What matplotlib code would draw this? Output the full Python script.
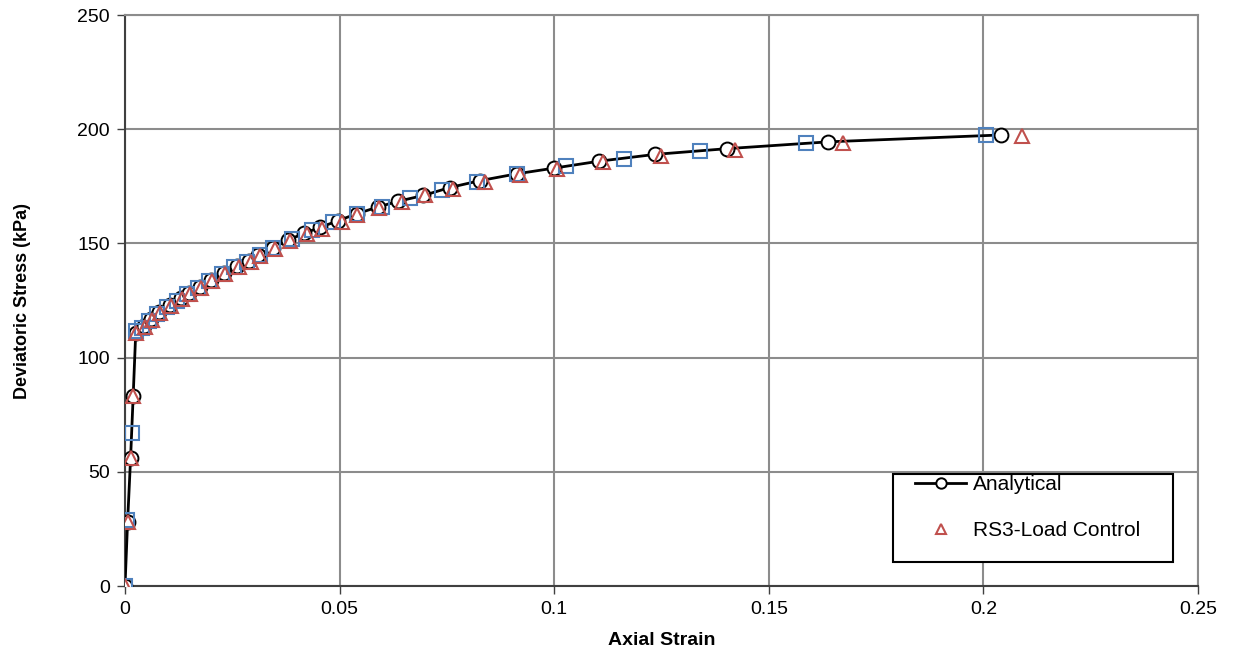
import matplotlib
matplotlib.use('Agg')
import matplotlib.pyplot as plt
from matplotlib.patches import Rectangle

plt.rcParams['font.family'] = ['Liberation Sans', 'DejaVu Sans']

# Analytical (black line + circles)
an_strain = [0, 0.0006, 0.0013, 0.0019, 0.0025, 0.0045, 0.006, 0.008, 0.0105, 0.013,
             0.015, 0.0175, 0.020, 0.023, 0.026, 0.029, 0.031, 0.0345, 0.038, 0.0418,
             0.0454, 0.0497, 0.054, 0.059, 0.0637, 0.0695, 0.0757, 0.0827, 0.0913, 0.1,
             0.1104, 0.1235, 0.1402, 0.1639, 0.204]
an_stress = [0, 28, 56, 83, 111, 114, 117, 120, 123, 126,
             128.5, 131, 134, 137, 140, 142.5, 145, 148, 151.5, 154.5,
             157, 160, 163, 166, 168.5, 171, 174.5, 177.5, 180.5, 183,
             186, 189, 191.5, 194.5, 197.5]

# blue squares (no legend entry)
sq_strain = [0, 0.0005, 0.0016, 0.0025, 0.004, 0.0055, 0.0075, 0.0098, 0.0122, 0.0145,
             0.017, 0.0195, 0.0225, 0.0255, 0.0285, 0.0315, 0.0345, 0.0388, 0.0435, 0.0484,
             0.054, 0.0598, 0.0664, 0.0738, 0.0819, 0.0914, 0.1028, 0.1163, 0.134, 0.1586,
             0.2005]
sq_stress = [0, 29, 67, 111.5, 113, 116, 119, 122, 125, 128,
             130.5, 133.5, 136.5, 139.5, 142, 145, 148, 152, 156, 159.5,
             163, 166, 170, 173.5, 177, 180.5, 184, 187, 190.5, 194,
             197.5]

# RS3 load control (red triangles)
tr_strain = [0, 0.0006, 0.0013, 0.0019, 0.0025, 0.0047, 0.0062, 0.0082, 0.0107, 0.0132,
             0.0152, 0.0178, 0.0203, 0.0233, 0.0265, 0.0293, 0.0315, 0.035, 0.0384, 0.0423,
             0.0458, 0.0505, 0.054, 0.0592, 0.0645, 0.0699, 0.0765, 0.0839, 0.092, 0.1007,
             0.1114, 0.1249, 0.1421, 0.1674, 0.209]
tr_stress = [0, 28, 56, 83, 111, 113.5, 116.5, 119.5, 122.5, 125.5,
             128, 130.5, 133.5, 136.5, 139.5, 142, 144.5, 147.5, 151, 154,
             156.5, 159.5, 162.5, 165.5, 168, 171, 174, 177, 180, 182.5,
             185.5, 188.5, 190.8, 194, 197]

x_ticks = [0, 0.05, 0.1, 0.15, 0.2, 0.25]
x_tick_labels = ['0', '0.05', '0.1', '0.15', '0.2', '0.25']
y_ticks = [0, 50, 100, 150, 200, 250]

fig = plt.figure(figsize=(12.34, 6.56), dpi=100)
ax = fig.add_axes([0.1013, 0.1067, 0.8695, 0.8703])

ax.plot(an_strain, an_stress, color='black', lw=2.0, marker='o', ms=10,
        mfc='white', mec='black', mew=1.4, zorder=3, label='Analytical')
ax.plot(sq_strain, sq_stress, ls='none', marker='s', ms=10, mfc='none',
        mec='#4F81BD', mew=1.5, zorder=4)
ax.plot(tr_strain, tr_stress, ls='none', marker='^', ms=10, mfc='none',
        mec='#C0504D', mew=1.5, zorder=5, label='RS3-Load Control')

ax.set_xlim(0, 0.25)
ax.set_ylim(0, 250)
ax.set_xticks(x_ticks)
ax.set_xticklabels(x_tick_labels)
ax.set_yticks(y_ticks)
ax.tick_params(axis='both', direction='out', length=6, width=1, color='#404040',
               labelsize=14, pad=5)
ax.grid(True, color='#8c8c8c', lw=1.5)
ax.set_axisbelow(True)
for s in ['top', 'right']:
    ax.spines[s].set_color('#8c8c8c')
    ax.spines[s].set_linewidth(1.5)
for s in ['left', 'bottom']:
    ax.spines[s].set_color('#404040')
    ax.spines[s].set_linewidth(1.5)

ax.set_xlabel('Axial Strain', fontsize=14, fontweight='bold', labelpad=10)
ax.set_ylabel('Deviatoric Stress (kPa)', fontsize=13, fontweight='bold', labelpad=33)

# legend box drawn separately (Excel-style, taller than its entries)
ax.add_patch(Rectangle((0.7157, 0.042), 0.261, 0.154, transform=ax.transAxes,
                       facecolor='white', edgecolor='black', lw=1.5, zorder=6,
                       clip_on=False))
leg = ax.legend(loc='upper left', bbox_to_anchor=(0.7363, 0.194), fontsize=15,
                frameon=False, handlelength=2.45, handletextpad=0.34,
                labelspacing=1.3, borderpad=0, borderaxespad=0, markerscale=0.75)
leg.set_zorder(7)

fig.savefig('out.png', dpi=100)
